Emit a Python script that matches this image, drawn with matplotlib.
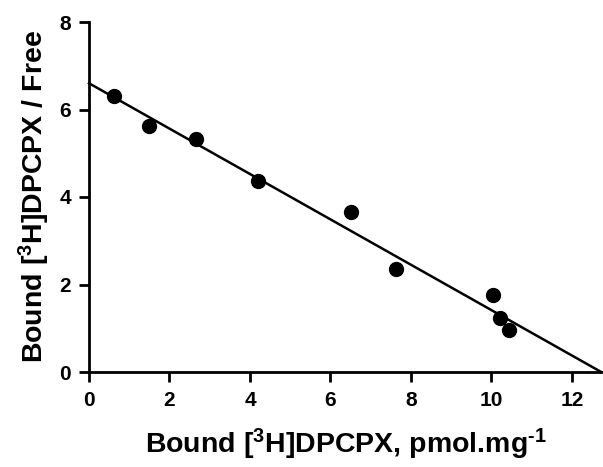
import numpy as np
import matplotlib
matplotlib.use("Agg")
import matplotlib.pyplot as plt

# data
bound = [0.63, 1.5, 2.66, 4.2, 6.5, 7.63, 10.03, 10.22, 10.45]
ratio = [6.32, 5.63, 5.33, 4.37, 3.66, 2.35, 1.76, 1.24, 0.95]
fit_x = [0.0, 12.73]
fit_y = [6.6, 0.0]

plt.rcParams['font.family'] = 'Liberation Sans'
plt.rcParams['font.weight'] = 'bold'
plt.rcParams['mathtext.fontset'] = 'custom'
plt.rcParams['mathtext.rm'] = 'Liberation Sans:bold'
plt.rcParams['mathtext.bf'] = 'Liberation Sans:bold'
plt.rcParams['mathtext.default'] = 'bf'

fig = plt.figure(figsize=(6.03, 4.67), dpi=100)
ax = fig.add_axes([89/603, 95/467, 513/603, 350/467])

ax.plot(fit_x, fit_y, color='black', lw=1.8, clip_on=False)
ax.plot(bound, ratio, 'o', color='black', ms=10)

ax.set_xlim(0, 12.75)
ax.set_ylim(0, 8)
ax.set_xticks(range(0, 13, 2))
ax.set_yticks(range(0, 9, 2))
for s in ['top', 'right']:
    ax.spines[s].set_visible(False)
for s in ['left', 'bottom']:
    ax.spines[s].set_linewidth(2)
ax.tick_params(width=2, length=7, labelsize=15)
ax.tick_params(axis='x', pad=7)
ax.tick_params(axis='y', pad=6)

ax.set_xlabel('Bound [$^3$H]DPCPX, pmol.mg$^{\\text{-1}}$', fontsize=20.5, fontweight='bold', labelpad=12)
ax.set_ylabel('Bound [$^3$H]DPCPX / Free', fontsize=20.5, fontweight='bold', labelpad=5)

fig.savefig('out.png', dpi=100)
